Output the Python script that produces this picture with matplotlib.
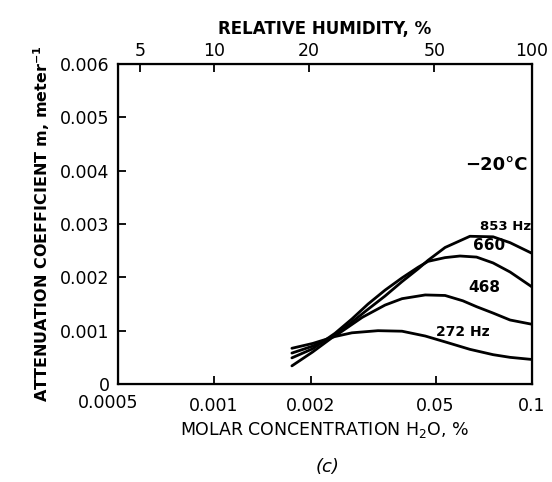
import matplotlib
matplotlib.use('Agg')
import matplotlib.pyplot as plt

# positions along the (hand-drawn, not truly logarithmic) x axis, 0 = left edge, 1 = right edge
bottom_tick_pos = [0.232, 0.465, 0.767, 1.0]
bottom_tick_labels = ['0.001', '0.002', '0.05', '0.1']
first_label = '0.0005'
first_label_pos = -0.025
top_tick_pos = [0.053, 0.231, 0.461, 0.764, 1.0]
top_tick_labels = ['5', '10', '20', '50', '100']

y_ticks = [0, 0.001, 0.002, 0.003, 0.004, 0.005, 0.006]
y_tick_labels = ['0', '0.001', '0.002', '0.003', '0.004', '0.005', '0.006']

# curves: x position along axis, attenuation coefficient (1/m)
x_853 = [0.42, 0.47, 0.531, 0.597, 0.645, 0.686, 0.725, 0.749, 0.79, 0.85, 0.906, 0.947, 1.0]
y_853 = [0.00034, 0.0006, 0.00095, 0.00136, 0.00165, 0.00192, 0.00216, 0.00232, 0.00256, 0.00277, 0.00276, 0.00265, 0.00245]
x_660 = [0.42, 0.47, 0.524, 0.565, 0.604, 0.645, 0.686, 0.725, 0.749, 0.79, 0.826, 0.866, 0.906, 0.947, 1.0]
y_660 = [0.00049, 0.00066, 0.00095, 0.00122, 0.0015, 0.00176, 0.00199, 0.00219, 0.0023, 0.00237, 0.0024, 0.00238, 0.00227, 0.0021, 0.00182]
x_468 = [0.42, 0.47, 0.53, 0.59, 0.645, 0.686, 0.742, 0.79, 0.833, 0.866, 0.906, 0.947, 1.0]
y_468 = [0.00058, 0.00071, 0.00093, 0.00125, 0.00148, 0.0016, 0.00167, 0.00166, 0.00156, 0.00145, 0.00133, 0.0012, 0.00112]
x_272 = [0.42, 0.47, 0.524, 0.565, 0.628, 0.686, 0.742, 0.79, 0.85, 0.906, 0.947, 1.0]
y_272 = [0.00067, 0.00076, 0.00089, 0.00096, 0.001, 0.00099, 0.0009, 0.00079, 0.00065, 0.00055, 0.0005, 0.00046]

fig = plt.figure(figsize=(5.52, 4.82), dpi=100)
ax = fig.add_axes([0.2138, 0.2033, 0.75, 0.6639])

for xs, ys in [(x_853, y_853), (x_660, y_660), (x_468, y_468), (x_272, y_272)]:
    ax.plot(xs, ys, color='black', lw=2.0, solid_capstyle='round', solid_joinstyle='round')

ax.set_xlim(0, 1)
ax.set_ylim(0, 0.006)
for s in ax.spines.values():
    s.set_linewidth(1.6)

ax.set_yticks(y_ticks)
ax.set_yticklabels(y_tick_labels, fontsize=12.5)
ax.set_xticks(bottom_tick_pos)
ax.set_xticklabels(bottom_tick_labels, fontsize=12.5)
ax.tick_params(axis='both', direction='in', length=6, width=1.3, pad=6)
ax.tick_params(axis='x', pad=9)
ax.xaxis.get_major_ticks()[-1].tick1line.set_visible(False)
ax.yaxis.get_major_ticks()[0].tick1line.set_visible(False)
ax.yaxis.get_major_ticks()[-1].tick1line.set_visible(False)
ax.text(first_label_pos, -0.032, first_label, transform=ax.get_xaxis_transform(),
        ha='center', va='top', fontsize=12.5)

top = ax.twiny()
top.set_xlim(0, 1)
top.set_xticks(top_tick_pos)
top.set_xticklabels(top_tick_labels, fontsize=12.5)
top.tick_params(axis='x', direction='in', length=6, width=1.3, pad=3)
top.xaxis.get_major_ticks()[-1].tick2line.set_visible(False)
top.set_xlabel('RELATIVE HUMIDITY, %', fontsize=12, fontweight='bold', labelpad=6)

ax.set_xlabel('MOLAR CONCENTRATION H$_2$O, %', fontsize=12.5, labelpad=4)
ax.set_ylabel('ATTENUATION COEFFICIENT m, meter$^{\\mathbf{-1}}$', fontsize=11.5,
              fontweight='bold', labelpad=6)

ax.text(0.915, 0.0041, '\u221220\u00b0C', fontsize=13, fontweight='bold', ha='center', va='center')
ax.text(0.935, 0.00296, '853 Hz', fontsize=9.5, fontweight='bold', ha='center', va='center')
ax.text(0.896, 0.0026, '660', fontsize=11, fontweight='bold', ha='center', va='center')
ax.text(0.884, 0.00181, '468', fontsize=11, fontweight='bold', ha='center', va='center')
ax.text(0.833, 0.00097, '272 Hz', fontsize=10, fontweight='bold', ha='center', va='center')

fig.text(0.5925, 0.031, '(c)', fontsize=13, style='italic', ha='center', va='center')

fig.savefig('out.png', dpi=100)
